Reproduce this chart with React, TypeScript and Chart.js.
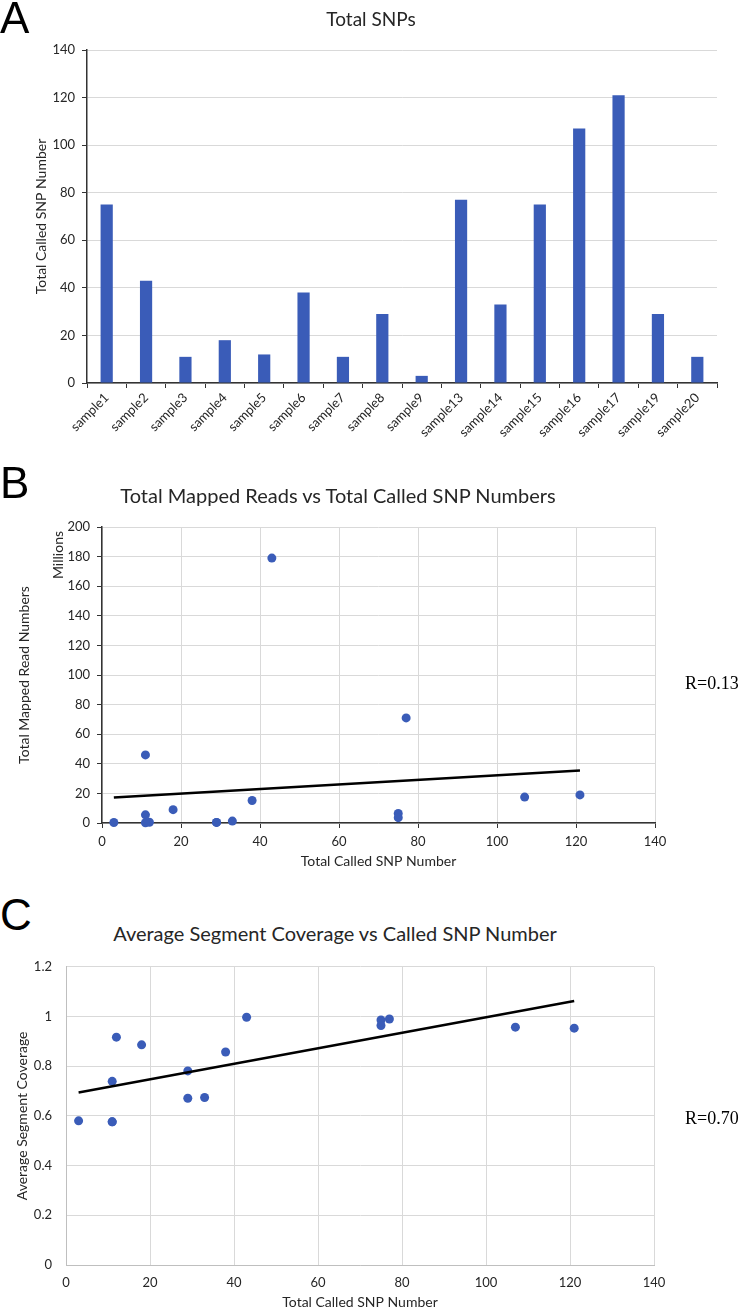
import React, { useEffect, useRef } from 'react';
import Chart from 'chart.js/auto';

// ---------- data ----------
const samples = [
  'sample1', 'sample2', 'sample3', 'sample4', 'sample5', 'sample6', 'sample7', 'sample8',
  'sample9', 'sample13', 'sample14', 'sample15', 'sample16', 'sample17', 'sample19', 'sample20',
];
const snpCounts = [75, 43, 11, 18, 12, 38, 11, 29, 3, 77, 33, 75, 107, 121, 29, 11];
const mappedReadsMillions = [6.5, 179, 46, 9, 0.5, 15.2, 5.5, 0.4, 0.3, 71, 1.3, 3.6, 17.5, 19, 0.4, 0.2];
const segmentCoverage = [0.986, 0.997, 0.739, 0.886, 0.917, 0.857, 0.576, 0.781, 0.58, 0.99, 0.674, 0.964, 0.957, 0.953, 0.671, 0.576];
const trendReadsX = [3, 121];
const trendReadsY = [17.2, 35.5];
const trendCoverageX = [3, 121];
const trendCoverageY = [0.694, 1.062];
const rReads = 'R=0.13';
const rCoverage = 'R=0.70';

// ---------- style ----------
const BLUE = '#3A5CB8';
const GRID = '#D9D9D9';
const DARK = '#333333';
const TXT = '#262626';
const FONT = 'Lato, "Open Sans", sans-serif';

const tickFont = { family: FONT, size: 13 };
const titleFont = { family: FONT, size: 14 };
const fmt = (v: any) => String(Number(Number(v).toFixed(2)));

function makeBar(canvas: HTMLCanvasElement) {
  return new Chart(canvas, {
    type: 'bar',
    data: {
      labels: samples,
      datasets: [
        {
          data: snpCounts,
          backgroundColor: BLUE,
          categoryPercentage: 1,
          barPercentage: 0.31,
        },
      ],
    },
    options: {
      animation: false,
      responsive: false,
      layout: { padding: { left: 0, top: 50, right: 25, bottom: 0 } },
      plugins: { legend: { display: false }, tooltip: { enabled: false } },
      scales: {
        x: {
          grid: { display: true, drawOnChartArea: false, drawTicks: true, tickLength: 5, tickColor: DARK, offset: true },
          border: { color: DARK, width: 1.5 },
          ticks: { minRotation: 45, maxRotation: 45, autoSkip: false, font: { family: FONT, size: 13 }, color: TXT, padding: 2 },
          afterFit: (s: any) => { s.height = 67; },
        },
        y: {
          min: 0,
          max: 140,
          ticks: { stepSize: 20, font: tickFont, color: TXT, padding: 7 },
          grid: { color: GRID, tickLength: 5, tickColor: DARK },
          border: { color: DARK, width: 1.5 },
          title: { display: true, text: 'Total Called SNP Number', font: titleFont, color: TXT, padding: { top: 33, bottom: 0 } },
          afterFit: (s: any) => { s.width = 87; },
        },
      },
    },
  } as any);
}

function makeScatter(
  canvas: HTMLCanvasElement,
  ys: number[],
  tx: number[],
  ty: number[],
  yMax: number,
  yStep: number,
  yTitle: string,
  yTitlePad: number,
  pad: { top: number; right: number },
  yWidth: number,
  xHeight: number,
  withTicks: boolean,
  axisColor: string,
  xLabelPad: number,
  xTitlePad: number,
  yLabelPad: number,
) {
  return new Chart(canvas, {
    type: 'scatter',
    data: {
      datasets: [
        {
          type: 'line',
          data: tx.map((x, i) => ({ x, y: ty[i] })),
          borderColor: '#000000',
          borderWidth: 2.5,
          pointRadius: 0,
          fill: false,
          order: 1,
        },
        {
          type: 'scatter',
          data: snpCounts.map((x, i) => ({ x, y: ys[i] })),
          backgroundColor: BLUE,
          borderWidth: 0,
          pointRadius: 4.5,
          clip: false,
          order: 2,
        },
      ],
    },
    options: {
      animation: false,
      responsive: false,
      layout: { padding: { left: 0, top: pad.top, right: pad.right, bottom: 0 } },
      plugins: { legend: { display: false }, tooltip: { enabled: false } },
      scales: {
        x: {
          type: 'linear',
          min: 0,
          max: 140,
          ticks: { stepSize: 20, font: tickFont, color: TXT, padding: xLabelPad, callback: fmt },
          grid: { color: GRID, drawTicks: withTicks, tickLength: 5, tickColor: DARK },
          border: { color: axisColor, width: withTicks ? 1.5 : 1 },
          title: { display: true, text: 'Total Called SNP Number', font: titleFont, color: TXT, padding: { top: 0, bottom: xTitlePad } },
          afterFit: (s: any) => { s.height = xHeight; },
        },
        y: {
          min: 0,
          max: yMax,
          ticks: { stepSize: yStep, font: tickFont, color: TXT, padding: yLabelPad, callback: fmt },
          grid: { color: GRID, drawTicks: withTicks, tickLength: 5, tickColor: DARK },
          border: { color: axisColor, width: withTicks ? 1.5 : 1 },
          title: { display: true, text: yTitle, font: titleFont, color: TXT, padding: { top: yTitlePad, bottom: 0 } },
          afterFit: (s: any) => { s.width = yWidth; },
        },
      },
    },
  } as any);
}

const abs = (o: any) => ({ position: 'absolute' as const, ...o });

function Letter({ ch, top }: { ch: string; top: number }) {
  return (
    <div style={abs({ left: 0, top, fontFamily: '"Liberation Sans", Arial, sans-serif', fontSize: 44, lineHeight: '44px', color: '#000' })}>{ch}</div>
  );
}

function Title({ text, cx, cy, size }: { text: string; cx: number; cy: number; size: number }) {
  return (
    <div style={abs({ left: cx - 320, width: 640, top: cy - 12, height: 24, lineHeight: '24px', textAlign: 'center', fontFamily: FONT, fontSize: size, color: TXT, whiteSpace: 'nowrap' })}>{text}</div>
  );
}

export default function App() {
  const aRef = useRef<HTMLCanvasElement>(null);
  const bRef = useRef<HTMLCanvasElement>(null);
  const cRef = useRef<HTMLCanvasElement>(null);

  useEffect(() => {
    const a = makeBar(aRef.current!);
    const b = makeScatter(bRef.current!, mappedReadsMillions, trendReadsX, trendReadsY, 200, 20,
      'Total Mapped Read Numbers', 16, { top: 22, right: 87 }, 102, 57, true, DARK, 6, 10, 7);
    const c = makeScatter(cRef.current!, segmentCoverage, trendCoverageX, trendCoverageY, 1.2, 0.2,
      'Average Segment Coverage', 14, { top: 18, right: 88 }, 66, 47, false, '#BFBFBF', 10, 1, 14);
    return () => { a.destroy(); b.destroy(); c.destroy(); };
  }, []);

  return (
    <div style={abs({ left: 0, top: 0, width: 742, height: 1312, background: '#fff', overflow: 'hidden' })}>
      <canvas ref={aRef} width={742} height={450} style={abs({ left: 0, top: 0, width: 742, height: 450 })} />
      <canvas ref={bRef} width={742} height={375} style={abs({ left: 0, top: 505, width: 742, height: 375 })} />
      <canvas ref={cRef} width={742} height={367} style={abs({ left: 0, top: 945, width: 742, height: 367 })} />

      <Letter ch="A" top={-4} />
      <Letter ch="B" top={461} />
      <Letter ch="C" top={893} />

      <Title text="Total SNPs" cx={371} cy={19} size={19} />
      <Title text="Total Mapped Reads vs Total Called SNP Numbers" cx={338} cy={495} size={20} />
      <Title text="Average Segment Coverage vs Called SNP Number" cx={335} cy={933} size={20} />

      <div style={abs({ left: 57, top: 555, transform: 'translate(-50%, -50%) rotate(-90deg)', fontFamily: FONT, fontSize: 14, color: TXT, whiteSpace: 'nowrap' })}>Millions</div>

      <div style={abs({ left: 685, top: 672, fontFamily: '"Liberation Serif", "Times New Roman", serif', fontSize: 18, lineHeight: '22px', color: '#000' })}>{rReads}</div>
      <div style={abs({ left: 685, top: 1107, fontFamily: '"Liberation Serif", "Times New Roman", serif', fontSize: 18, lineHeight: '22px', color: '#000' })}>{rCoverage}</div>
    </div>
  );
}
